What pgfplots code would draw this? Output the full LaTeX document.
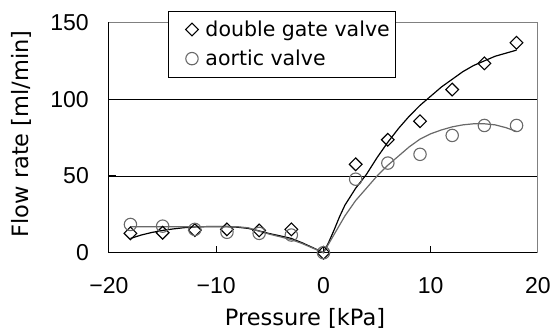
\documentclass[border=0pt]{standalone}
\usepackage{pgfplots}
\pgfplotsset{compat=1.18}
\usepackage{fontspec}
\setmainfont{DejaVu Sans}
\newfontfamily\numfont{Liberation Sans}
\definecolor{cgray}{RGB}{105,105,105}
\definecolor{bgray}{RGB}{128,128,128}
\begin{document}
\begin{tikzpicture}
\useasboundingbox (-109pt,-81.3pt) rectangle (443pt,252.7pt);
\begin{axis}[
  at={(0pt,0pt)}, anchor=south west,
  scale only axis, width=429pt, height=230.2pt,
  xmin=-20, xmax=20, ymin=0, ymax=150,
  axis x line*=bottom, axis y line*=left,
  axis line style={black, line width=1pt, -},
  xtick={-20,-10,0,10,20}, xticklabels={−20,−10,0,10,20},
  ytick={0,50,100,150}, yticklabels={0,50,100,150},
  tick align=inside, major tick length=7pt, tick style={black, line width=1pt},
  ticklabel style={font=\numfont\fontsize{23}{27}\selectfont},
  xticklabel style={anchor=center, yshift=-33pt},
  yticklabel style={anchor=east, inner xsep=0pt, xshift=-20pt},
  ymajorgrids, grid style={black, line width=0.9pt},
  xlabel={Pressure [kPa]}, ylabel={Flow rate [ml/min]},
  label style={font=\fontsize{22.5}{26}\selectfont},
  xlabel style={at={(axis description cs:0.457,-0.2837)}, anchor=center},
  ylabel style={at={(axis description cs:-0.205,0.516)}, anchor=center},
  legend image code/.code={\path (0pt,0pt) (30pt,0pt); \draw[#1] plot coordinates {(19pt,0pt)};},
  legend style={at={(axis description cs:0.1375,1.052)}, anchor=north west,
    draw=black, line width=1pt, fill=white, font=\fontsize{20.5}{24}\selectfont,
    inner xsep=4pt, inner ysep=8pt, row sep=8pt},
  legend cell align=left,
  clip=false,
]
\draw[bgray, line width=1pt] (rel axis cs:0,1) -- (rel axis cs:1,1) -- (rel axis cs:1,0);
\addplot[black, line width=1.2pt, forget plot] coordinates {
(-18,9.3) (-17,11.5) (-16,13.2) (-15,14.5) (-14,15.5) (-13,16.3) (-12,16.8) (-11,17) (-10,17.1) (-9,17) (-8,16.6) (-7,15.8) (-6,14.2) (-5,12.4) (-4,10.9) (-3,9.3) (-2,6.5) (-1,3.3) (0,0)
(0.5,7) (1,15) (1.5,23.5) (2,31) (3,42) (4,51) (5,62) (6,72) (7,81) (8,89) (9,96) (10,102) (11,108) (12,113) (13,118) (14,122) (15,125) (16,128) (17,130) (18,132)};
\addplot[cgray, line width=1.2pt, forget plot] coordinates {
(-18,16.9) (-16,16.9) (-14,16.9) (-12,16.9) (-10,16.9) (-8,16.9) (-7,16.2) (-6,14) (-5,12) (-4,10.3) (-3,8.5) (-2,6) (-1,3) (0,0)
(0.5,6) (1,12) (1.5,18) (2,24) (3,34) (4,42) (5,50) (6,57) (7,63) (8,69) (9,74) (10,77.5) (11,80) (12,82) (13,83.3) (14,84) (15,84) (16,83.3) (17,81.5) (18,79)};
\addplot[only marks, mark=square, mark size=4.5pt, mark options={rotate=45, black, line width=1.1pt, fill=none}] coordinates {
(-18,12.6) (-15,13) (-12,14.7) (-9,15.2) (-6,14.5) (-3,15.2) (0,0) (3,57.6) (6,73.6) (9,85.7) (12,106.3) (15,123.4) (18,136.8)};
\addlegendentry{double gate valve}
\addplot[only marks, mark=o, mark size=6.2pt, mark options={cgray, line width=1.1pt}] coordinates {
(-18,18.4) (-15,17.3) (-12,15.2) (-9,13.3) (-6,12.6) (-3,11.5) (0,0) (3,47.9) (6,58.4) (9,64.1) (12,76.4) (15,82.9) (18,82.9)};
\addlegendentry{aortic valve}
\end{axis}
\end{tikzpicture}
\end{document}
